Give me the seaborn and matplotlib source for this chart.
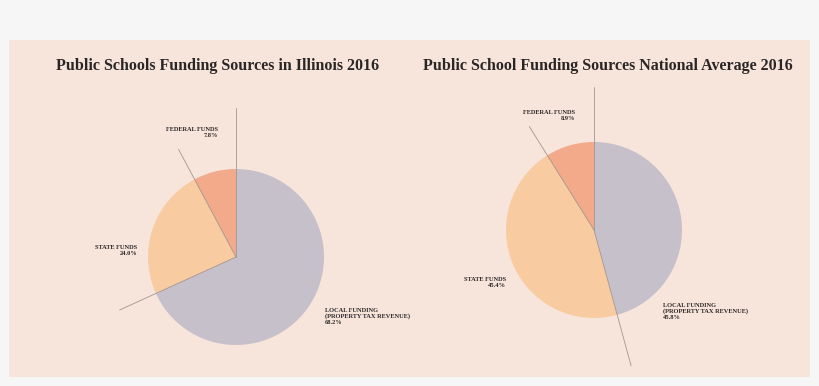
import numpy as np
import matplotlib
matplotlib.use("Agg")
import matplotlib.pyplot as plt
import seaborn as sns

# ---- data ----
categories = ["LOCAL FUNDING\n(PROPERTY TAX REVENUE)", "STATE FUNDS", "FEDERAL FUNDS"]
illinois_values = [68.2, 24.0, 7.8]
national_values = [45.8, 45.4, 8.9]
titles = ["Public Schools Funding Sources in Illinois 2016",
          "Public School Funding Sources National Average 2016"]
colors = ["#c6c0cb", "#f8cca0", "#f3aa8a"]

sns.set_theme(style="white")
plt.rcParams['font.family'] = ['Liberation Serif', 'DejaVu Serif']

W, H = 820, 386
fig = plt.figure(figsize=(W / 100, H / 100), dpi=100)
fig.patch.set_facecolor("#f6f6f6")
ax = fig.add_axes([0, 0, 1, 1])
ax.set_xlim(0, W)
ax.set_ylim(0, H)
ax.set_aspect("equal")
ax.axis("off")

# panel
ax.add_patch(plt.Rectangle((9, H - 377), 801, 337, facecolor="#f7e5db",
                           edgecolor="none", zorder=0))

R = 88
pies = [
    dict(values=illinois_values, center=(236, H - 257), title=titles[0], tx=218,
         ext=[149, 128, 122],
         lab=[(325, H - 308, "left"), (137, H - 245, "right"), (218, H - 127, "right")]),
    dict(values=national_values, center=(594, H - 230), title=titles[1], tx=608,
         ext=[143, 141, 122],
         lab=[(663, H - 303, "left"), (506, H - 277, "right"), (575, H - 110, "right")]),
]

for p in pies:
    vals = p["values"]
    cx, cy = p["center"]
    ax.pie(vals, colors=colors, startangle=90, counterclock=False,
           center=(cx, cy), radius=R, frame=True,
           wedgeprops=dict(linewidth=0, edgecolor="none"))
    # leader lines along slice boundaries
    cum = np.concatenate([[0], np.cumsum(vals)[:-1]])
    for frac_start, L in zip(cum / sum(vals), p["ext"]):
        ang = np.deg2rad(90 - 360 * frac_start)
        ax.plot([cx, cx + L * np.cos(ang)], [cy, cy + L * np.sin(ang)],
                color="#a0958f", lw=0.6, zorder=5)
    for (x, y, ha), cat, v in zip(p["lab"], categories, vals):
        ax.text(x, y, f"{cat}\n{v:.1f}%", ha=ha, va="top", fontsize=4.6,
                fontweight="bold", color="#2b2626", linespacing=1.15,
                multialignment=ha)
    ax.text(p["tx"], H - 66, p["title"], ha="center", va="center",
            fontsize=11.5, fontweight="bold", color="#2b2626")

ax.set_xlim(0, W)
ax.set_ylim(0, H)
fig.savefig("out.png", dpi=100, facecolor=fig.get_facecolor())
